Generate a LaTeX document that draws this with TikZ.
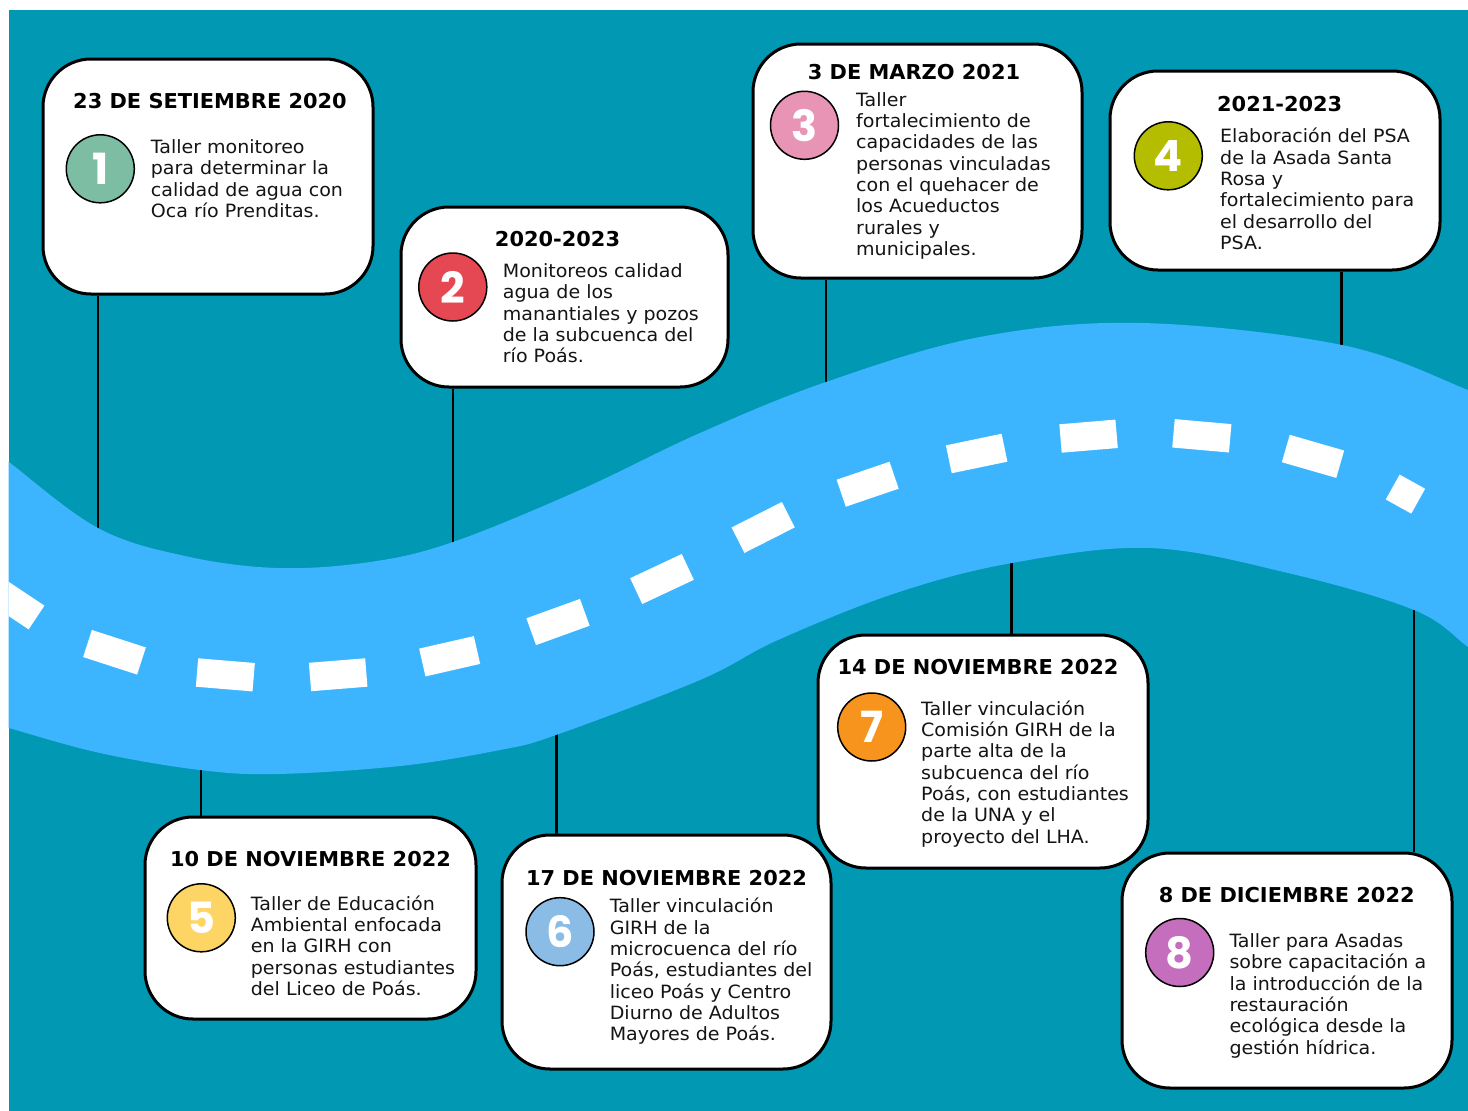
\documentclass[tikz,border=0pt]{standalone}
\usepackage{fontspec}
\setmainfont{DejaVu Sans}
\newfontfamily\bodyfont[FakeStretch=1.04]{DejaVu Sans}
\newfontfamily\titlefont[FakeStretch=1.02]{DejaVu Sans}
\newfontfamily\numfont{Poppins}
\definecolor{bgteal}{HTML}{0098B3}
\definecolor{riverblue}{HTML}{3CB5FE}
\definecolor{cA}{HTML}{7DBDA4}
\definecolor{cB}{HTML}{E54852}
\definecolor{cC}{HTML}{E894B4}
\definecolor{cD}{HTML}{B4BD00}
\definecolor{cE}{HTML}{FDD565}
\definecolor{cF}{HTML}{8BBCE6}
\definecolor{cG}{HTML}{F7941D}
\definecolor{cH}{HTML}{C46EBD}
\pgfdeclarelayer{bg}
\pgfdeclarelayer{riverlayer}
\pgfsetlayers{bg,riverlayer,main}
\begin{document}
\begin{tikzpicture}[x=1pt,y=-1pt,
  box/.style={draw=black, line width=3pt, fill=white, rounded corners=48pt, inner sep=0pt},
  numcirc/.style={circle, draw=black, line width=1.5pt, minimum size=68pt, inner sep=0pt, text=white, font=\numfont\fontsize{43}{43}\selectfont\bfseries},
  title/.style={font=\titlefont\fontsize{20.5}{24}\selectfont\bfseries, inner sep=0pt, anchor=center},
  body/.style={font=\bodyfont\fontsize{18.3}{21.3}\selectfont, align=left, anchor=north west, inner sep=0pt, text=black!92},
  conn/.style={draw=black, line width=2.8pt},
  dashseg/.style={draw=white, line width=28.5pt, line cap=butt}
]
\useasboundingbox (0,0) rectangle (1468,1111);
\begin{pgfonlayer}{bg}
\fill[bgteal] (8.5,10) rectangle (1468,1111);
\end{pgfonlayer}

% river
\begin{pgfonlayer}{riverlayer}
\begin{scope}
\clip (8.5,10) rectangle (1468,1111);
\fill[riverblue] plot[smooth, tension=0.6] coordinates {(-30,430) (9,462) (98,528) (185,556) (277,568) (370,562) (453,542) (580,490) (700,433) (826,382) (980,337) (1141,323) (1342,345) (1468,390) (1510,410)}
  -- plot[smooth, tension=0.6] coordinates {(1510,680) (1468,647) (1414,610) (1288,573) (1150,548) (1012,563) (896,593) (778,640) (700,680) (556,735) (500,750) (400,766) (277,774) (200,770) (100,753) (9,728) (-30,716)} -- cycle;
\draw[dashseg] (-11.5,585.5) -- (36.5,617.5);
\draw[dashseg] (87.5,643.5) -- (141.5,661);
\draw[dashseg] (197,672.5) -- (253.7,677.2);
\draw[dashseg] (310,677) -- (366.3,672.5);
\draw[dashseg] (422.3,662.5) -- (477,650);
\draw[dashseg] (531.2,631.7) -- (584.8,612.3);
\draw[dashseg] (636.2,591.1) -- (687.8,566.9);
\draw[dashseg] (738,540.2) -- (788.3,514.7);
\draw[dashseg] (841.2,493.2) -- (894.1,475.2);
\draw[dashseg] (948.8,459.3) -- (1004.5,447.7);
\draw[dashseg] (1060.5,438.5) -- (1116.6,433.8);
\draw[dashseg] (1173.5,433.3) -- (1230.2,438.3);
\draw[dashseg] (1285.8,448.5) -- (1340.2,464.2);
\draw[dashseg] (1392.7,487) -- (1418.2,501.2);
\end{scope}
\end{pgfonlayer}

% boxes
\node[box, minimum width=330pt, minimum height=235pt] (b1) at (208,176.5) {};
\node[box, minimum width=327pt, minimum height=180pt] (b2) at (564.5,297) {};
\node[box, minimum width=329pt, minimum height=234pt] (b3) at (917.5,161) {};
\node[box, minimum width=330pt, minimum height=199pt] (b4) at (1275,170.5) {};
\node[box, minimum width=331pt, minimum height=202pt] (b5) at (310.5,918) {};
\node[box, minimum width=329pt, minimum height=234pt] (b6) at (666.5,952) {};
\node[box, minimum width=330pt, minimum height=233pt] (b7) at (983,751.5) {};
\node[box, minimum width=330pt, minimum height=235pt] (b8) at (1287,970.5) {};

% connector ends inside the river
\coordinate (r1) at (98,548);
\coordinate (r2) at (453,562);
\coordinate (r3) at (826,402);
\coordinate (r4) at (1341.5,365);
\coordinate (r5) at (201,755);
\coordinate (r6) at (556.5,715);
\coordinate (r7) at (1011.7,545);
\coordinate (r8) at (1414,590);
\begin{pgfonlayer}{bg}
\draw[conn] (b1.south -| r1) -- (r1);
\draw[conn] (b2.south -| r2) -- (r2);
\draw[conn] (b3.south -| r3) -- (r3);
\draw[conn] (b4.south -| r4) -- (r4);
\draw[conn] (b5.north -| r5) -- (r5);
\draw[conn] (b6.north -| r6) -- (r6);
\draw[conn] (b7.north -| r7) -- (r7);
\draw[conn] (b8.north -| r8) -- (r8);
\end{pgfonlayer}

% titles
\node[title] (t1) at (210,100.7) {23 DE SETIEMBRE 2020};
\node[title] (t2) at (557.5,238.7) {2020-2023};
\node[title] (t3) at (914,72) {3 DE MARZO 2021};
\node[title] (t4) at (1279.7,104) {2021-2023};
\node[title] (t5) at (310.5,859.5) {10 DE NOVIEMBRE 2022};
\node[title] (t6) at (666.5,878) {17 DE NOVIEMBRE 2022};
\node[title] (t7) at (978,667.5) {14 DE NOVIEMBRE 2022};
\node[title] (t8) at (1286.7,895) {8 DE DICIEMBRE 2022};

% numbered circles
\node[numcirc, fill=cA] (n1) at (100.3,168.8) {1};
\node[numcirc, fill=cB] (n2) at (452.8,287) {2};
\node[numcirc, fill=cC] (n3) at (804.5,125.3) {3};
\node[numcirc, fill=cD] (n4) at (1168.3,155.8) {4};
\node[numcirc, fill=cE] (n5) at (201.3,917.8) {5};
\node[numcirc, fill=cF] (n6) at (560,931.7) {6};
\node[numcirc, fill=cG] (n7) at (871.7,727) {7};
\node[numcirc, fill=cH] (n8) at (1179.7,952.5) {8};

% body texts
\node[body] (d1) at (150.7,138.4) {\strut Taller monitoreo\\para determinar la\\calidad de agua con\\Oca río Prenditas.};
\node[body] (d2) at (502.7,262.4) {\strut Monitoreos calidad\\agua de los\\manantiales y pozos\\de la subcuenca del\\río Poás.};
\node[body] (d3) at (856,91.1) {\strut Taller\\fortalecimiento de\\capacidades de las\\personas vinculadas\\con el quehacer de\\los Acueductos\\rurales y\\municipales.};
\node[body] (d4) at (1220,127.8) {\strut Elaboración del PSA\\de la Asada Santa\\Rosa y\\fortalecimiento para\\el desarrollo del\\PSA.};
\node[body] (d5) at (250.7,895.1) {\strut Taller de Educación\\Ambiental enfocada\\en la GIRH con\\personas estudiantes\\del Liceo de Poás.};
\node[body] (d6) at (609.6,897.8) {\strut Taller vinculación\\GIRH de la\\microcuenca del río\\Poás, estudiantes del\\liceo Poás y Centro\\Diurno de Adultos\\Mayores de Poás.};
\node[body] (d7) at (921,700.1) {\strut Taller vinculación\\Comisión GIRH de la\\parte alta de la\\subcuenca del río\\Poás, con estudiantes\\de la UNA y el\\proyecto del LHA.};
\node[body] (d8) at (1229.3,932.4) {\strut Taller para Asadas\\sobre capacitación a\\la introducción de la\\restauración\\ecológica desde la\\gestión hídrica.};
\end{tikzpicture}
\end{document}
